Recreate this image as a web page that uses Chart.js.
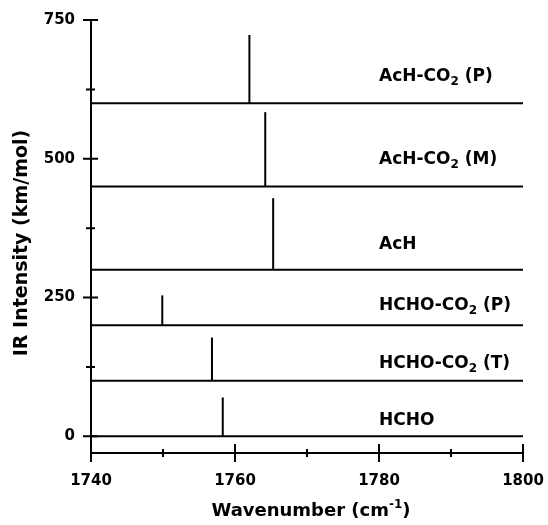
<!DOCTYPE html>
<html>
<head>
<meta charset="utf-8">
<script src="https://cdn.jsdelivr.net/npm/chart.js@4.4.1/dist/chart.umd.min.js"></script>
<style>
  html, body { margin: 0; background: #fff; }
  #wrap { width: 548px; height: 525px; }
</style>
</head>
<body>
<div id="wrap"><canvas id="spectra"></canvas></div>
<script>
// species stacked from bottom to top; "_{..}" marks a subscript
const species   = ["HCHO", "HCHO-CO_{2} (T)", "HCHO-CO_{2} (P)", "AcH", "AcH-CO_{2} (M)", "AcH-CO_{2} (P)"];
const baseline  = [0, 100, 200, 300, 450, 600];
const peakPos   = [1758.3, 1756.8, 1749.9, 1765.3, 1764.2, 1762.0];
const peakInt   = [70, 78, 54, 129, 134, 123];
const labelY    = [29, 131, 236, 345, 498, 648];
const labelX    = 1780;

const xRange    = [1740, 1800];
const yRange    = [-30, 750];
const xTicks    = [1740, 1760, 1780, 1800];
const xMinor    = [1750, 1770, 1790];
const yTicks    = [0, 250, 500, 750];
const yMinor    = [125, 375, 625];

const xTitle = "Wavenumber (cm^{-1})";
const yTitle = "IR Intensity (km/mol)";

const FONT = "'DejaVu Sans', Verdana, sans-serif";

// =====================
// datasets
// =====================
const datasets = [];
species.forEach((name, i) => {
  datasets.push({
    label: name + " baseline",
    data: [{ x: xRange[0], y: baseline[i] }, { x: xRange[1], y: baseline[i] }],
    showLine: true, borderColor: "#000", borderWidth: 2, pointRadius: 0
  });
  datasets.push({
    label: name,
    data: [{ x: peakPos[i], y: baseline[i] }, { x: peakPos[i], y: baseline[i] + peakInt[i] }],
    showLine: true, borderColor: "#000", borderWidth: 2, pointRadius: 0
  });
});

// =====================
// rich text helpers
// =====================
function parseRich(str) {
  const parts = [];
  const re = /([_^])\{([^}]*)\}/g;
  let last = 0, m;
  while ((m = re.exec(str))) {
    if (m.index > last) parts.push({ t: str.slice(last, m.index), s: 0 });
    parts.push({ t: m[2], s: m[1] === "_" ? 1 : -1 });
    last = re.lastIndex;
  }
  if (last < str.length) parts.push({ t: str.slice(last), s: 0 });
  return parts;
}

function drawRich(ctx, str, x, y, size, align) {
  const parts = parseRich(str);
  const small = Math.round(size * 0.68);
  const fontFor = p => `bold ${p.s ? small : size}px ${FONT}`;
  let w = 0;
  parts.forEach(p => { ctx.font = fontFor(p); p.w = ctx.measureText(p.t).width; w += p.w; });
  let cx = align === "center" ? x - w / 2 : x;
  ctx.textAlign = "left";
  ctx.textBaseline = "middle";
  parts.forEach(p => {
    ctx.font = fontFor(p);
    const dy = p.s === 1 ? size * 0.3 : p.s === -1 ? -size * 0.35 : 0;
    ctx.fillText(p.t, cx, y + dy);
    cx += p.w;
  });
}

// =====================
// decorations: crossing ticks, labels, titles
// =====================
const decor = {
  id: "decor",
  afterDraw(chart) {
    const { ctx, scales: { x, y }, chartArea: a } = chart;
    ctx.save();
    ctx.strokeStyle = "#000";
    ctx.fillStyle = "#000";
    ctx.lineWidth = 2;
    ctx.beginPath();
    yTicks.forEach(v => { const p = y.getPixelForValue(v); ctx.moveTo(a.left - 8, p); ctx.lineTo(a.left + 7, p); });
    yMinor.forEach(v => { const p = y.getPixelForValue(v); ctx.moveTo(a.left - 5, p); ctx.lineTo(a.left + 4, p); });
    xTicks.forEach(v => { const p = x.getPixelForValue(v); ctx.moveTo(p, a.bottom - 9); ctx.lineTo(p, a.bottom + 9); });
    xMinor.forEach(v => { const p = x.getPixelForValue(v); ctx.moveTo(p, a.bottom - 4); ctx.lineTo(p, a.bottom + 4); });
    ctx.stroke();

    species.forEach((name, i) => {
      drawRich(ctx, name, x.getPixelForValue(labelX), y.getPixelForValue(labelY[i]), 17, "left");
    });

    drawRich(ctx, xTitle, 311, 511, 18, "center");
    ctx.translate(22, 243);
    ctx.rotate(-Math.PI / 2);
    drawRich(ctx, yTitle, 0, 0, 19, "center");
    ctx.restore();
  }
};

// =====================
// chart
// =====================
const tickFont = { family: FONT, size: 15, weight: "bold" };

new Chart(document.getElementById("spectra"), {
  type: "scatter",
  data: { datasets },
  options: {
    responsive: true,
    maintainAspectRatio: false,
    animation: false,
    layout: { padding: { top: 20, right: 25, left: 0, bottom: 0 } },
    plugins: { legend: { display: false }, tooltip: { enabled: false } },
    scales: {
      x: {
        type: "linear", min: xRange[0], max: xRange[1],
        afterBuildTicks: s => { s.ticks = xTicks.map(v => ({ value: v })); },
        afterFit: s => { s.height = 72; s.paddingLeft = 0; s.paddingRight = 0; },
        grid: { display: false, drawTicks: false },
        border: { display: true, color: "#000", width: 2 },
        ticks: { color: "#000", font: tickFont, padding: 19, maxRotation: 0, callback: v => String(v) }
      },
      y: {
        type: "linear", min: yRange[0], max: yRange[1],
        afterBuildTicks: s => { s.ticks = yTicks.map(v => ({ value: v })); },
        afterFit: s => { s.width = 91; s.paddingTop = 0; s.paddingBottom = 0; },
        grid: { display: false, drawTicks: false },
        border: { display: true, color: "#000", width: 2 },
        ticks: { color: "#000", font: tickFont, padding: 16, callback: v => String(v) }
      }
    }
  },
  plugins: [decor]
});
</script>
</body>
</html>
